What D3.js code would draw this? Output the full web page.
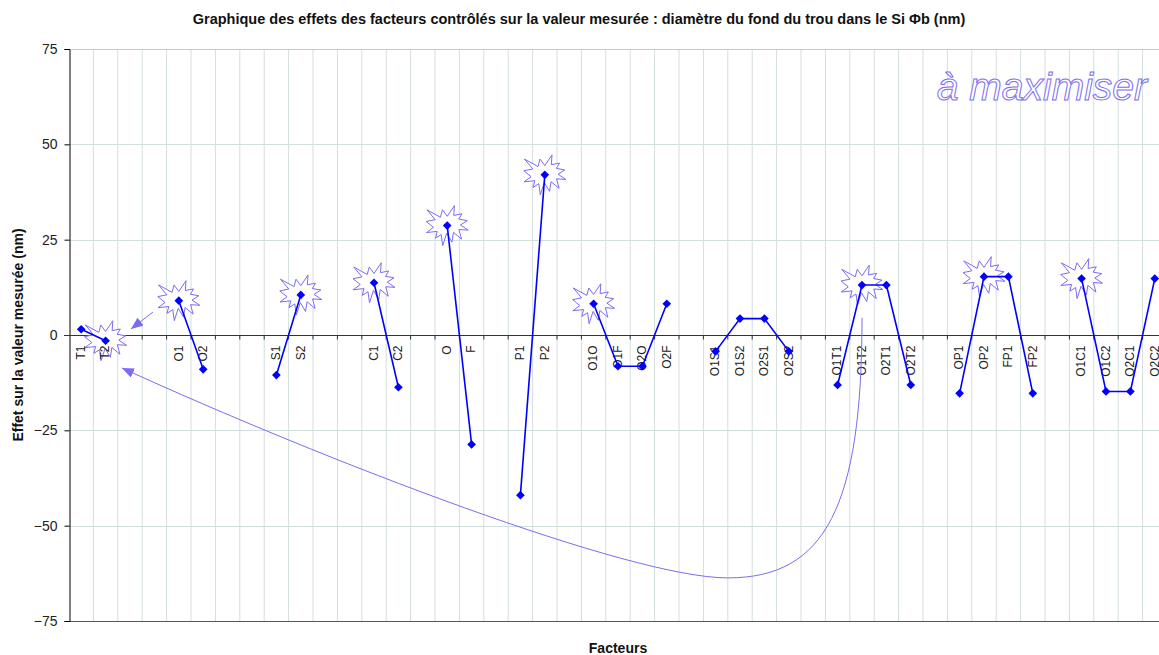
<!DOCTYPE html>
<html>
<head>
<meta charset="utf-8">
<script src="https://cdn.jsdelivr.net/npm/d3@7"></script>
<style>
  html, body { margin: 0; padding: 0; background: #fff; }
  svg { display: block; font-family: "Liberation Sans", Arial, sans-serif; }
</style>
</head>
<body>
<svg id="chart" width="1159" height="655"></svg>
<script>
// Factor slots along the x axis ("" = empty slot between groups)
const categories = [
  "T1", "T2", "", "",
  "O1", "O2", "", "",
  "S1", "S2", "", "",
  "C1", "C2", "",
  "O", "F", "",
  "P1", "P2", "",
  "O1O", "O1F", "O2O", "O2F", "",
  "O1S1", "O1S2", "O2S1", "O2S2", "",
  "O1T1", "O1T2", "O2T1", "O2T2", "",
  "OP1", "OP2", "FP1", "FP2", "",
  "O1C1", "O1C2", "O2C1", "O2C2"
];

// Effect of each factor level (nm); null breaks the line between groups
const effects = [
  1.5, -1.5, null, null,
  9.0, -9.0, null, null,
  -10.5, 10.5, null, null,
  13.7, -13.7, null,
  28.7, -28.7, null,
  -42.0, 42.0, null,
  8.2, -8.2, -8.2, 8.2, null,
  -4.3, 4.3, 4.3, -4.3, null,
  -13.1, 13.1, 13.1, -13.1, null,
  -15.3, 15.3, 15.3, -15.3, null,
  14.8, -14.8, -14.8, 14.8
];

// Levels highlighted with a burst (best level of each factor)
const highlighted = ["T2", "O1", "S2", "C1", "O", "P2", "O1O", "O1T2", "OP2", "O1C1"];

const yTicks = [-75, -50, -25, 0, 25, 50, 75];

const titleText = "Graphique des effets des facteurs contrôlés sur la valeur mesurée : diamètre du fond du trou dans le Si Φb (nm)";
const yTitle = "Effet sur la valeur mesurée (nm)";
const xTitle = "Facteurs";
const noteText = "à maximiser";

const svg = d3.select("#chart");
const margin = { left: 69, top: 49, bottom: 621 };
const bandW = 24.4;
const plotRight = margin.left + categories.length * bandW;

const x = d3.scaleBand()
  .domain(d3.range(categories.length))
  .range([margin.left, plotRight])
  .paddingInner(0).paddingOuter(0);
const xc = i => x(i) + x.bandwidth() / 2;
// fractional slot position (for annotations)
const xf = f => margin.left + (f + 0.5) * x.bandwidth();

const y = d3.scaleLinear().domain([-75, 75]).range([margin.bottom, margin.top]);

const gridColor = "#d3dede";
const accent = "#7c6cf2";

// Vertical grid lines at slot boundaries
svg.append("g").selectAll("line")
  .data(d3.range(1, categories.length + 1))
  .join("line")
  .attr("x1", i => x(0) + i * x.bandwidth())
  .attr("x2", i => x(0) + i * x.bandwidth())
  .attr("y1", y(75)).attr("y2", y(-75))
  .attr("stroke", gridColor).attr("stroke-width", 1);

// Horizontal grid lines
svg.append("g").selectAll("line")
  .data(yTicks.filter(t => t !== 0 && t !== -75))
  .join("line")
  .attr("x1", margin.left).attr("x2", plotRight)
  .attr("y1", d => Math.round(y(d)) + 0.5).attr("y2", d => Math.round(y(d)) + 0.5)
  .attr("stroke", d => d === 75 ? "#c4c8c8" : gridColor).attr("stroke-width", 1);

// Bottom border of the plot
svg.append("line")
  .attr("x1", margin.left).attr("x2", plotRight)
  .attr("y1", Math.round(y(-75)) + 0.5).attr("y2", Math.round(y(-75)) + 0.5)
  .attr("stroke", "#555").attr("stroke-width", 1);

// Y axis
const yAxis = d3.axisLeft(y).tickValues(yTicks).tickSize(5).tickPadding(7).tickFormat(d3.format("d"));
const gy = svg.append("g").attr("transform", `translate(${margin.left + 0.5},0)`).call(yAxis);
gy.select(".domain").attr("stroke", "#000");
gy.selectAll(".tick line").attr("stroke", "#000");
gy.selectAll(".tick text").attr("font-size", 14).attr("fill", "#222")
  .attr("font-family", "Liberation Sans, Arial, sans-serif");

// Zero line with slot ticks
const zeroY = Math.round(y(0)) + 0.5;
svg.append("line")
  .attr("x1", margin.left - 5).attr("x2", plotRight)
  .attr("y1", zeroY).attr("y2", zeroY)
  .attr("stroke", "#333").attr("stroke-width", 1);
svg.append("g").selectAll("line")
  .data(d3.range(1, categories.length + 1))
  .join("line")
  .attr("x1", i => x(0) + i * x.bandwidth())
  .attr("x2", i => x(0) + i * x.bandwidth())
  .attr("y1", zeroY).attr("y2", zeroY + 4)
  .attr("stroke", "#333");

// Burst shape (explosion outline), defined on a 21600 grid
const burst = [
  [10800, 5800], [8352, 2295], [7312, 6320], [370, 2295], [4627, 7617], [0, 8615],
  [3722, 11775], [135, 14587], [5667, 13937], [4762, 17617], [7715, 15627], [8485, 21600],
  [10532, 14935], [13247, 19737], [14020, 14457], [18145, 18095], [16837, 12942], [21600, 13290],
  [17607, 10475], [21097, 8137], [16702, 7315], [18380, 4457], [14155, 5325], [14522, 0]
];
const burstW = 42, burstH = 40;
const burstPath = "M" + burst.map(([bx, by]) =>
  [(bx / 21600 - 0.5) * burstW, (by / 21600 - 0.5) * burstH].map(v => v.toFixed(2)).join(",")
).join("L") + "Z";

svg.append("g").selectAll("path")
  .data(highlighted.map(name => categories.indexOf(name)))
  .join("path")
  .attr("d", burstPath)
  .attr("transform", i => `translate(${xc(i)},${y(effects[i])})`)
  .attr("fill", "#fff").attr("stroke", accent).attr("stroke-width", 1);

// Category labels
svg.append("g").selectAll("text")
  .data(d3.range(categories.length).filter(i => categories[i] !== ""))
  .join("text")
  .attr("transform", i => `translate(${xc(i)},${zeroY + 10}) rotate(-90)`)
  .attr("text-anchor", "end").attr("dy", "0.32em")
  .attr("font-size", 12).attr("fill", "#222")
  .text(i => categories[i]);

// Arrow marker
const defs = svg.append("defs");
defs.append("marker")
  .attr("id", "arrowHead").attr("viewBox", "0 0 12 10")
  .attr("refX", 12).attr("refY", 5)
  .attr("markerWidth", 12).attr("markerHeight", 10)
  .attr("markerUnits", "userSpaceOnUse").attr("orient", "auto")
  .append("path").attr("d", "M0,0L12,5L0,10Z").attr("fill", accent);

// Short arrow pointing to the T2 burst
svg.append("line")
  .attr("x1", xf(2.94)).attr("y1", y(6.0))
  .attr("x2", xf(2.04)).attr("y2", y(1.6))
  .attr("stroke", accent).attr("stroke-width", 1)
  .attr("marker-end", "url(#arrowHead)");

// Long curved arrow from O1T2 back to T2
const curve = d3.path();
curve.moveTo(xf(32.0), y(4.5));
curve.bezierCurveTo(xf(32.0), y(-45), xf(30.5), y(-63.7), xf(26.5), y(-63.7));
curve.bezierCurveTo(xf(22.5), y(-63.7), xf(10), y(-33), xf(1.67), y(-8.65));
svg.append("path")
  .attr("d", curve.toString())
  .attr("fill", "none").attr("stroke", accent).attr("stroke-width", 1)
  .attr("marker-end", "url(#arrowHead)");

// Effect lines (one segment per factor group)
const line = d3.line()
  .defined(d => d !== null)
  .x((d, i) => xc(i))
  .y(d => y(d));
svg.append("path")
  .datum(effects)
  .attr("d", line)
  .attr("fill", "none").attr("stroke", "#0000ff").attr("stroke-width", 1.6);

// Diamond markers
const diamond = d3.symbol().type(d3.symbolDiamond2).size(48);
svg.append("g").selectAll("path")
  .data(d3.range(effects.length).filter(i => effects[i] !== null))
  .join("path")
  .attr("d", diamond)
  .attr("transform", i => `translate(${xc(i)},${y(effects[i])})`)
  .attr("fill", "#0000ff");

// Outlined note
svg.append("text")
  .attr("x", 1147).attr("y", 100)
  .attr("text-anchor", "end")
  .attr("font-size", 39).attr("font-style", "italic")
  .attr("fill", "#fff").attr("stroke", accent).attr("stroke-width", 1)
  .text(noteText);

// Titles
svg.append("text")
  .attr("x", 579).attr("y", 24)
  .attr("text-anchor", "middle")
  .attr("font-size", 14.5).attr("font-weight", "bold").attr("fill", "#111")
  .text(titleText);

svg.append("text")
  .attr("transform", `translate(23,${y(0)}) rotate(-90)`)
  .attr("text-anchor", "middle")
  .attr("font-size", 14).attr("font-weight", "bold").attr("fill", "#111")
  .text(yTitle);

svg.append("text")
  .attr("x", 618).attr("y", 653)
  .attr("text-anchor", "middle")
  .attr("font-size", 14).attr("font-weight", "bold").attr("fill", "#111")
  .text(xTitle);
</script>
</body>
</html>
